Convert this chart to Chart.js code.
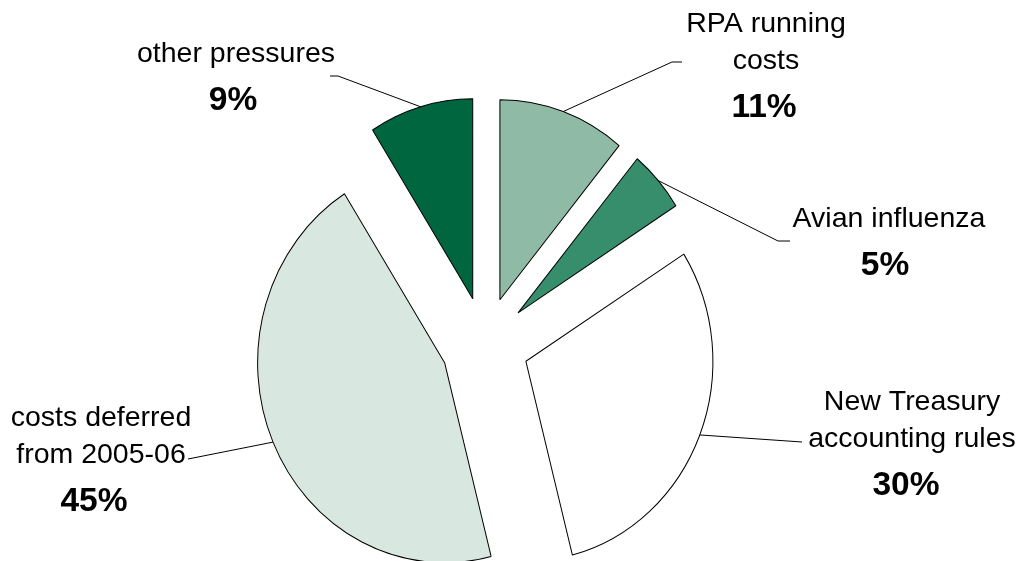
<!DOCTYPE html>
<html>
<head>
<meta charset="utf-8">
<script src="https://cdn.jsdelivr.net/npm/chart.js@4/dist/chart.umd.min.js"></script>
<style>
  html, body { margin: 0; padding: 0; background: #ffffff; }
  #wrap { width: 1018px; height: 561px; position: relative; }
</style>
</head>
<body>
<div id="wrap"><canvas id="chartPresiones"></canvas></div>
<script>
// Datos de la gráfica (porcentajes)
const categorias = [
    ['RPA running', 'costs'],
    ['Avian influenza'],
    ['New Treasury', 'accounting rules'],
    ['costs deferred', 'from 2005-06'],
    ['other pressures']
];
const valores = [11, 5, 30, 45, 9];
const colores = ['#8fbba6', '#368e6d', '#ffffff', '#d8e7e0', '#00663f'];

// Posición de las etiquetas (centro x, línea base del primer renglón, x del porcentaje) y codo de la línea guía
const etiquetas = [
    { x: 766, y: 32, px: 764, codo: [[672, 62], [682, 62]] },
    { x: 889, y: 227, px: 885, codo: [[778, 241], [790, 241]] },
    { x: 912, y: 410, px: 906, codo: [[802, 442]] },
    { x: 101, y: 426, px: 94, codo: [[188, 459]] },
    { x: 236, y: 62, px: 233, codo: [[338, 76], [330, 76]] }
];

const EXPLOSION = 44;      // separación de cada porción
const ESTIRADO = 200 / 187; // el pastel original es un poco más alto que ancho
const FUENTE = '"Liberation Sans", Arial, sans-serif';

// Dibuja cada arco desplazado hacia afuera y estirado en vertical
const pluginExplotado = {
    id: 'explotado',
    beforeDatasetDraw(chart, args) {
        const ctx = chart.ctx;
        args.meta.data.forEach(arc => {
            const { x, y, startAngle, endAngle } = arc.getProps(['x', 'y', 'startAngle', 'endAngle'], true);
            const medio = (startAngle + endAngle) / 2;
            ctx.save();
            ctx.translate(x, y);
            ctx.scale(1, ESTIRADO);
            ctx.translate(-x + Math.cos(medio) * EXPLOSION, -y + Math.sin(medio) * EXPLOSION);
            arc.draw(ctx);
            ctx.restore();
        });
        return false;
    },
    afterDraw(chart) {
        const ctx = chart.ctx;
        const meta = chart.getDatasetMeta(0);
        const total = valores.reduce((a, b) => a + b, 0);
        ctx.save();
        ctx.strokeStyle = '#000000';
        ctx.lineWidth = 1;
        ctx.fillStyle = '#000000';
        ctx.textAlign = 'center';
        ctx.textBaseline = 'alphabetic';
        meta.data.forEach((arc, i) => {
            const { x, y, startAngle, endAngle, outerRadius } = arc.getProps(['x', 'y', 'startAngle', 'endAngle', 'outerRadius'], true);
            const medio = (startAngle + endAngle) / 2;
            const d = EXPLOSION + outerRadius;
            const px = x + Math.cos(medio) * d;
            const py = y + Math.sin(medio) * d * ESTIRADO;

            // línea guía
            const et = etiquetas[i];
            ctx.beginPath();
            ctx.moveTo(px, py);
            et.codo.forEach(p => ctx.lineTo(p[0], p[1]));
            ctx.stroke();

            // texto
            ctx.font = '28.5px ' + FUENTE;
            let linea = et.y;
            categorias[i].forEach(t => {
                ctx.fillText(t, et.x, linea);
                linea += 37;
            });
            ctx.font = 'bold 33.5px ' + FUENTE;
            ctx.fillText(Math.round(valores[i] / total * 100) + '%', et.px, linea + 11);
        });
        ctx.restore();
    }
};

const ctx = document.getElementById('chartPresiones').getContext('2d');
new Chart(ctx, {
    type: 'pie',
    data: {
        labels: categorias.map(c => c.join(' ')),
        datasets: [{
            data: valores,
            backgroundColor: colores,
            borderColor: '#000000',
            borderWidth: 1
        }]
    },
    options: {
        responsive: true,
        maintainAspectRatio: false,
        animation: false,
        radius: 187,
        layout: {
            padding: { top: 127, bottom: 0, left: 0, right: 48 }
        },
        plugins: {
            legend: { display: false },
            tooltip: { enabled: false }
        },
        events: []
    },
    plugins: [pluginExplotado]
});
</script>
</body>
</html>
